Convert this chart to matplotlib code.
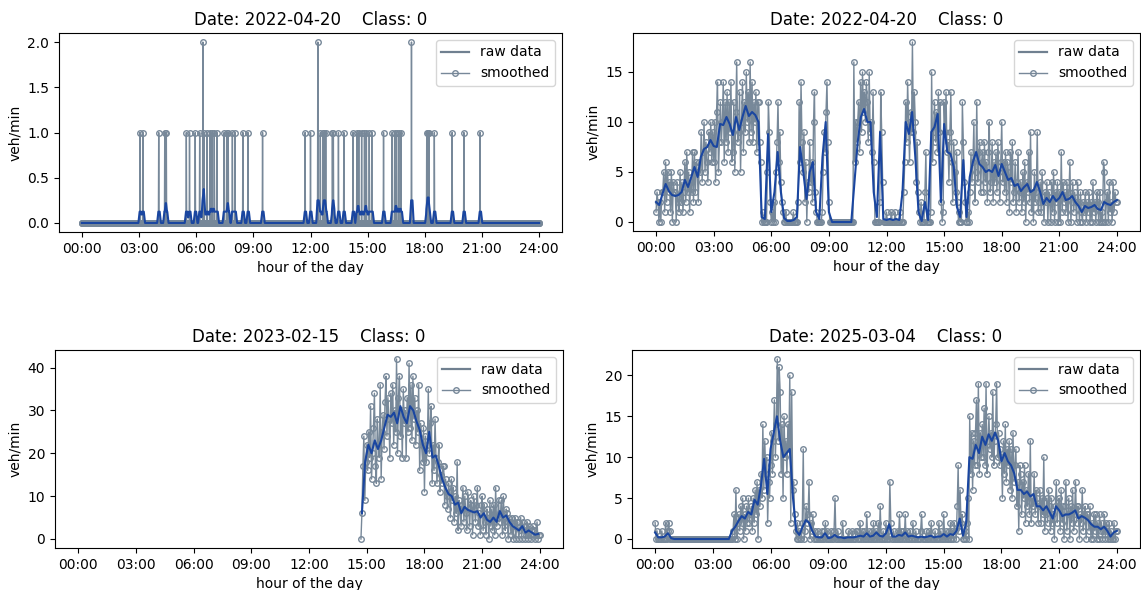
import numpy as np
import pandas as pd
import matplotlib
matplotlib.use("Agg")
import matplotlib.pyplot as plt
from matplotlib.lines import Line2D

RAW_COLOR = "lightslategray"
SMOOTH_COLOR = "#1a46a0"

hour_ticks = [0, 3, 6, 9, 12, 15, 18, 21, 24]
hour_labels = ["00:00", "03:00", "06:00", "09:00", "12:00", "15:00", "18:00", "21:00", "24:00"]

titles = ["Date: 2022-04-20    Class: 0",
          "Date: 2022-04-20    Class: 0",
          "Date: 2023-02-15    Class: 0",
          "Date: 2025-03-04    Class: 0"]

# panel 1: almost empty day, counts per minute (minute of day -> vehicles)
spike_min = [183, 192, 242, 261, 266, 329, 339, 357, 371, 381, 385, 394, 403, 410,
             417, 425, 448, 456, 461, 474, 482, 507, 523, 569, 703, 720, 743, 751,
             760, 763, 768, 789, 792, 808, 825, 854, 866, 872, 881, 890, 896, 905,
             913, 950, 977, 985, 991, 998, 1005, 1038, 1086, 1089, 1093, 1110,
             1166, 1203, 1254]
spike_val = [1, 1, 1, 1, 1, 1, 1, 1, 1, 2, 1, 1, 1, 1,
             1, 1, 1, 1, 1, 1, 1, 1, 1, 1, 1, 1, 2, 1,
             1, 1, 1, 1, 1, 1, 1, 1, 1, 1, 1, 1, 1, 1,
             1, 1, 1, 1, 1, 1, 1, 2, 1, 1, 1, 1,
             1, 1, 1]

# panel 2: raw every 3 min (one row per hour), smoothed every 10 min
raw2 = [
    [1, 3, 2, 0, 2, 0, 3, 3, 5, 1, 6, 2, 5, 3, 4, 1, 5, 0, 4, 3],
    [3, 0, 4, 2, 1, 5, 2, 4, 1, 3, 6, 2, 7, 3, 5, 1, 4, 3, 7, 2],
    [7, 3, 6, 5, 2, 6, 5, 9, 4, 7, 10, 5, 8, 6, 4, 9, 7, 10, 6, 9],
    [6, 10, 4, 11, 14, 5, 8, 12, 8, 10, 14, 6, 12, 8, 13, 7, 12, 9, 14, 6],
    [7, 12, 5, 11, 16, 8, 9, 13, 5, 10, 14, 7, 12, 9, 15, 10, 13, 8, 16, 9],
    [14, 8, 12, 10, 13, 7, 12, 12, 8, 6, 0, 1, 0, 0, 0, 0, 5, 12, 9, 2],
    [0, 1, 0, 2, 0, 5, 8, 12, 6, 9, 4, 2, 1, 0, 0, 1, 0, 0, 0, 0],
    [0, 0, 0, 1, 0, 0, 0, 0, 2, 12, 6, 14, 8, 5, 9, 2, 6, 0, 4, 3],
    [8, 4, 6, 2, 10, 13, 3, 1, 0, 0, 0, 0, 0, 1, 5, 9, 7, 11, 14, 8],
    [2, 0, 0, 0, 0, 0, 0, 0, 0, 0, 0, 0, 0, 0, 0, 0, 0, 0, 0, 0],
    [0, 0, 0, 0, 0, 0, 16, 6, 10, 8, 10, 12, 7, 14, 9, 15, 11, 13, 10, 14],
    [12, 8, 15, 9, 10, 7, 13, 6, 0, 0, 0, 0, 0, 2, 13, 9, 4, 0, 0, 0],
    [1, 0, 0, 0, 0, 1, 0, 0, 0, 1, 0, 0, 0, 0, 1, 0, 0, 0, 3, 6],
    [12, 8, 14, 10, 6, 11, 9, 18, 9, 13, 10, 4, 8, 3, 1, 0, 2, 0, 0, 0],
    [3, 7, 0, 0, 0, 0, 1, 15, 6, 9, 12, 8, 11, 7, 13, 9, 12, 2, 0, 1],
    [12, 9, 13, 7, 8, 4, 9, 13, 6, 2, 8, 5, 3, 7, 2, 0, 1, 0, 0, 12],
    [8, 4, 2, 0, 0, 1, 0, 3, 7, 4, 6, 10, 2, 5, 12, 4, 7, 8, 3, 6],
    [7, 3, 8, 4, 6, 2, 7, 10, 3, 4, 8, 2, 6, 4, 7, 3, 8, 5, 2, 6],
    [10, 4, 6, 3, 7, 2, 6, 5, 1, 7, 4, 8, 2, 3, 6, 1, 4, 7, 2, 3],
    [4, 1, 5, 2, 6, 0, 4, 3, 7, 2, 9, 1, 3, 0, 5, 2, 3, 9, 1, 2],
    [4, 1, 5, 2, 0, 3, 2, 4, 0, 3, 2, 0, 4, 1, 5, 0, 3, 2, 4, 0],
    [3, 0, 7, 1, 4, 2, 3, 1, 4, 0, 3, 6, 0, 2, 4, 1, 3, 2, 0, 4],
    [2, 0, 3, 1, 0, 2, 1, 3, 0, 2, 1, 3, 0, 2, 0, 4, 1, 2, 0, 3],
    [2, 0, 3, 0, 1, 0, 6, 5, 0, 2, 3, 0, 4, 1, 2, 0, 4, 1, 3, 2],
    [2],
]
smooth2 = [
    [2.0, 1.7, 2.8, 3.8, 3.1, 2.7],
    [2.6, 2.7, 3.0, 4.2, 3.5, 4.5],
    [5.5, 4.5, 6.5, 7.3, 7.5, 8.2],
    [7.6, 7.5, 9.8, 9.7, 10.5, 9.8],
    [8.7, 10.5, 9.2, 10.5, 11.6, 10.6],
    [11.0, 10.7, 10.0, 0.5, 0.3, 8.8],
    [1.0, 3.0, 7.0, 3.0, 0.4, 0.1],
    [0.1, 0.2, 0.5, 7.5, 5.0, 2.3],
    [5.0, 6.0, 1.0, 0.3, 6.5, 10.0],
    [1.0, 0.0, 0.0, 0.0, 0.0, 0.0],
    [0.0, 0.0, 4.0, 8.0, 10.5, 11.3],
    [10.0, 10.0, 3.0, 0.5, 9.0, 0.3],
    [0.2, 0.3, 0.2, 0.3, 0.2, 3.0],
    [10.0, 8.8, 11.0, 6.5, 1.0, 0.1],
    [2.0, 0.2, 9.0, 9.5, 10.8, 2.0],
    [9.8, 7.0, 6.8, 5.5, 1.5, 0.5],
    [6.2, 0.5, 4.5, 6.0, 7.0, 5.8],
    [5.5, 5.0, 5.2, 5.0, 5.7, 4.6],
    [5.8, 5.0, 4.2, 4.4, 3.6, 3.8],
    [3.1, 3.5, 3.8, 3.0, 3.2, 4.0],
    [3.0, 1.8, 2.4, 2.0, 2.6, 2.1],
    [2.4, 3.0, 2.2, 2.3, 2.6, 2.0],
    [1.6, 1.0, 1.6, 1.4, 1.5, 1.7],
    [1.3, 1.2, 2.0, 1.8, 1.7, 2.0],
    [2.2],
]

# panel 3: detector only online from 14:42 on, raw every 3 min
raw3_start = 14 + 42 / 60
raw3 = [
    [0, 6, 17, 24, 9, 18],
    [22, 16, 25, 19, 31, 14, 20, 26, 34, 17, 13, 28, 22, 19, 36, 14, 25, 29, 21, 32],
    [38, 24, 33, 28, 19, 34, 27, 36, 22, 30, 25, 42, 20, 33, 38, 24, 30, 19, 35, 27],
    [30, 19, 33, 25, 41, 26, 36, 23, 38, 28, 33, 22, 30, 25, 36, 16, 27, 22, 18, 26],
    [11, 24, 18, 22, 35, 20, 27, 31, 13, 22, 16, 28, 19, 13, 18, 22, 11, 15, 13, 17],
    [17, 8, 14, 10, 7, 13, 11, 5, 14, 9, 12, 4, 10, 6, 18, 2, 9, 7, 3, 8],
    [12, 4, 10, 6, 2, 11, 7, 3, 9, 8, 1, 10, 7, 4, 8, 12, 3, 6, 1, 8],
    [10, 2, 8, 4, 1, 7, 5, 0, 9, 3, 7, 2, 8, 1, 12, 3, 5, 9, 4, 6],
    [9, 1, 10, 4, 2, 7, 6, 0, 5, 4, 1, 5, 0, 3, 5, 0, 4, 4, 0, 2],
    [5, 0, 4, 2, 3, 0, 1, 4, 0, 3, 1, 0, 2, 3, 2, 0, 1, 4, 0, 1],
    [1],
]
smooth3_start = 14 + 45 / 60
smooth3 = [6, 18, 22, 20, 23, 21, 23, 26, 29, 28.5,
           29.5, 27, 31, 28.5, 27, 31, 30, 27.5, 25.5, 22,
           20, 25, 19, 19.5, 17, 14, 12, 10.5, 10, 8,
           8.5, 6, 7.5, 6.8, 6.5, 6.2, 6.5, 5, 6, 4.5,
           4, 5, 4, 6.5, 5, 5.5, 4, 3, 2.5, 2,
           3, 1.5, 2, 1.5, 1, 1.2]

# panel 4: raw every 3 min, smoothed every 10 min
raw4 = [
    [2, 0, 1, 0, 0, 0, 0, 1, 0, 0, 0, 2, 0, 1, 2, 1, 0, 0, 0, 0],
    [0, 0, 0, 0, 0, 0, 0, 0, 0, 0, 0, 0, 0, 0, 0, 0, 0, 0, 0, 0],
    [0, 0, 0, 0, 0, 0, 0, 0, 0, 0, 0, 0, 0, 0, 0, 0, 0, 0, 0, 0],
    [0, 0, 0, 0, 0, 0, 0, 0, 0, 0, 0, 0, 0, 0, 0, 0, 0, 0, 0, 0],
    [0, 1, 3, 0, 6, 0, 2, 3, 1, 4, 2, 5, 0, 3, 1, 4, 2, 5, 2, 3],
    [4, 1, 5, 2, 6, 3, 7, 0, 6, 4, 8, 5, 14, 6, 12, 8, 10, 2, 7, 5],
    [9, 13, 8, 12, 17, 10, 14, 22, 12, 21, 18, 8, 14, 5, 15, 10, 12, 8, 14, 11],
    [20, 2, 18, 6, 7, 3, 1, 0, 2, 0, 1, 0, 0, 2, 11, 0, 1, 4, 2, 3],
    [7, 0, 2, 1, 3, 0, 1, 0, 0, 1, 0, 0, 0, 1, 0, 0, 1, 2, 0, 1],
    [0, 0, 0, 1, 0, 0, 1, 5, 0, 0, 1, 0, 0, 0, 0, 2, 0, 0, 0, 0],
    [0, 1, 0, 0, 0, 1, 0, 0, 0, 1, 1, 0, 0, 2, 0, 1, 0, 1, 0, 0],
    [3, 0, 1, 0, 0, 1, 0, 2, 0, 0, 1, 0, 2, 0, 4, 0, 0, 1, 0, 0],
    [2, 0, 1, 0, 7, 2, 0, 0, 1, 0, 0, 0, 1, 0, 3, 0, 1, 0, 1, 0],
    [3, 0, 1, 0, 0, 1, 0, 0, 2, 0, 0, 1, 0, 0, 0, 0, 1, 3, 0, 0],
    [0, 0, 1, 0, 0, 1, 0, 2, 0, 0, 0, 1, 0, 0, 0, 2, 0, 1, 0, 0],
    [3, 0, 1, 0, 0, 1, 0, 2, 0, 1, 0, 2, 1, 0, 4, 9, 1, 6, 2, 3],
    [0, 0, 1, 0, 2, 5, 0, 15, 8, 13, 6, 12, 9, 13, 17, 9, 19, 8, 13, 10],
    [14, 10, 16, 9, 19, 8, 12, 15, 11, 13, 10, 18, 9, 12, 14, 19, 10, 13, 9, 11],
    [10, 5, 12, 8, 14, 7, 11, 9, 12, 6, 11, 5, 13, 7, 9, 11, 4, 7, 1, 9],
    [8, 3, 7, 5, 9, 2, 6, 4, 8, 3, 12, 2, 5, 4, 8, 3, 6, 5, 2, 4],
    [6, 2, 5, 3, 10, 1, 3, 5, 2, 6, 4, 1, 5, 2, 3, 0, 4, 7, 2, 4],
    [5, 1, 6, 2, 4, 0, 4, 7, 1, 3, 5, 0, 4, 2, 6, 1, 3, 7, 2, 4],
    [4, 0, 3, 2, 6, 1, 3, 4, 0, 3, 3, 1, 4, 0, 2, 0, 3, 1, 3, 0],
    [2, 0, 3, 1, 2, 0, 1, 3, 0, 2, 1, 0, 2, 0, 1, 0, 0, 2, 0, 1],
    [1],
]
smooth4 = [
    [0.8, 0.2, 0.2, 0.3, 0.7, 0.1],
    [0, 0, 0, 0, 0, 0],
    [0, 0, 0, 0, 0, 0],
    [0, 0, 0, 0, 0, 0],
    [1.0, 1.5, 2.2, 2.8, 2.5, 3.3],
    [3.0, 4.8, 4.2, 6.5, 9.8, 5.5],
    [11.0, 13.0, 15.0, 12.0, 10.0, 10.5],
    [11.0, 5.0, 1.0, 0.5, 1.5, 2.3],
    [2.0, 1.0, 0.3, 0.2, 0.2, 0.7],
    [0.1, 0.2, 0.5, 0.2, 0.2, 0.1],
    [0.2, 0.2, 0.2, 0.3, 0.4, 0.3],
    [0.7, 0.3, 0.4, 0.8, 0.4, 0.3],
    [0.7, 1.8, 0.3, 0.3, 0.5, 0.4],
    [0.8, 0.3, 0.4, 0.3, 0.2, 0.3],
    [0.2, 0.3, 0.4, 0.2, 0.3, 0.3],
    [0.6, 0.3, 0.6, 0.5, 1.0, 2.5],
    [0.4, 2.0, 10.0, 9.8, 11.5, 10.5],
    [12.5, 11.5, 12.8, 12.0, 13.0, 12.0],
    [9.5, 10.5, 9.5, 9.0, 8.0, 6.0],
    [6.0, 5.5, 5.8, 5.2, 5.5, 4.0],
    [4.0, 3.5, 4.0, 3.3, 2.5, 4.0],
    [3.5, 2.8, 3.0, 3.0, 3.2, 3.5],
    [2.5, 2.8, 2.6, 2.3, 1.8, 1.5],
    [1.5, 1.2, 1.5, 1.0, 0.3, 0.8],
    [1.0],
]


def flat(rows):
    return [v for r in rows for v in r]


# panel 1 series, one value per minute; smoothed with 8- then 4-minute rolling means
raw1 = np.zeros(1441)
raw1[spike_min] = spike_val
t1 = np.arange(1441) / 60
smooth1 = (pd.Series(raw1).rolling(8, center=True, min_periods=1).mean()
           .rolling(4, center=True, min_periods=1).mean())

r2 = flat(raw2)
s2 = flat(smooth2)
r3 = flat(raw3)
r4 = flat(raw4)
s4 = flat(smooth4)

panels = [
    (t1, raw1, t1, smooth1),
    (np.arange(len(r2)) * 3 / 60, r2, np.arange(len(s2)) * 10 / 60, s2),
    (raw3_start + np.arange(len(r3)) * 3 / 60, r3,
     smooth3_start + np.arange(len(smooth3)) * 10 / 60, smooth3),
    (np.arange(len(r4)) * 3 / 60, r4, np.arange(len(s4)) * 10 / 60, s4),
]

W, H = 1141, 590
fig = plt.figure(figsize=(W / 100, H / 100), dpi=100)
boxes = [(59, 33, 562, 232), (633, 33, 1140, 231),
         (55, 350, 563, 548), (632, 350, 1140, 548)]

leg_handles = [Line2D([], [], color="slategray", lw=1.6),
               Line2D([], [], color=RAW_COLOR, lw=1, marker="o", ms=4,
                      mfc="none", mew=1)]

for i, (tr, r, ts, s) in enumerate(panels):
    x0, y0, x1, y1 = boxes[i]
    ax = fig.add_axes([x0 / W, 1 - y1 / H, (x1 - x0) / W, (y1 - y0) / H])
    ax.plot(tr, r, "-o", color=RAW_COLOR, lw=1, ms=4, mfc="none", mew=1, zorder=2)
    ax.plot(ts, s, color=SMOOTH_COLOR, lw=1.5, zorder=3)
    ax.set_xticks(hour_ticks)
    ax.set_xticklabels(hour_labels)
    ax.set_xlim(-1.2, 25.2)
    ax.set_xlabel("hour of the day")
    ax.set_ylabel("veh/min")
    ax.set_title(titles[i])
    ax.legend(leg_handles, ["raw data", "smoothed"], loc="upper right")

fig.savefig("out.png", dpi=100)
